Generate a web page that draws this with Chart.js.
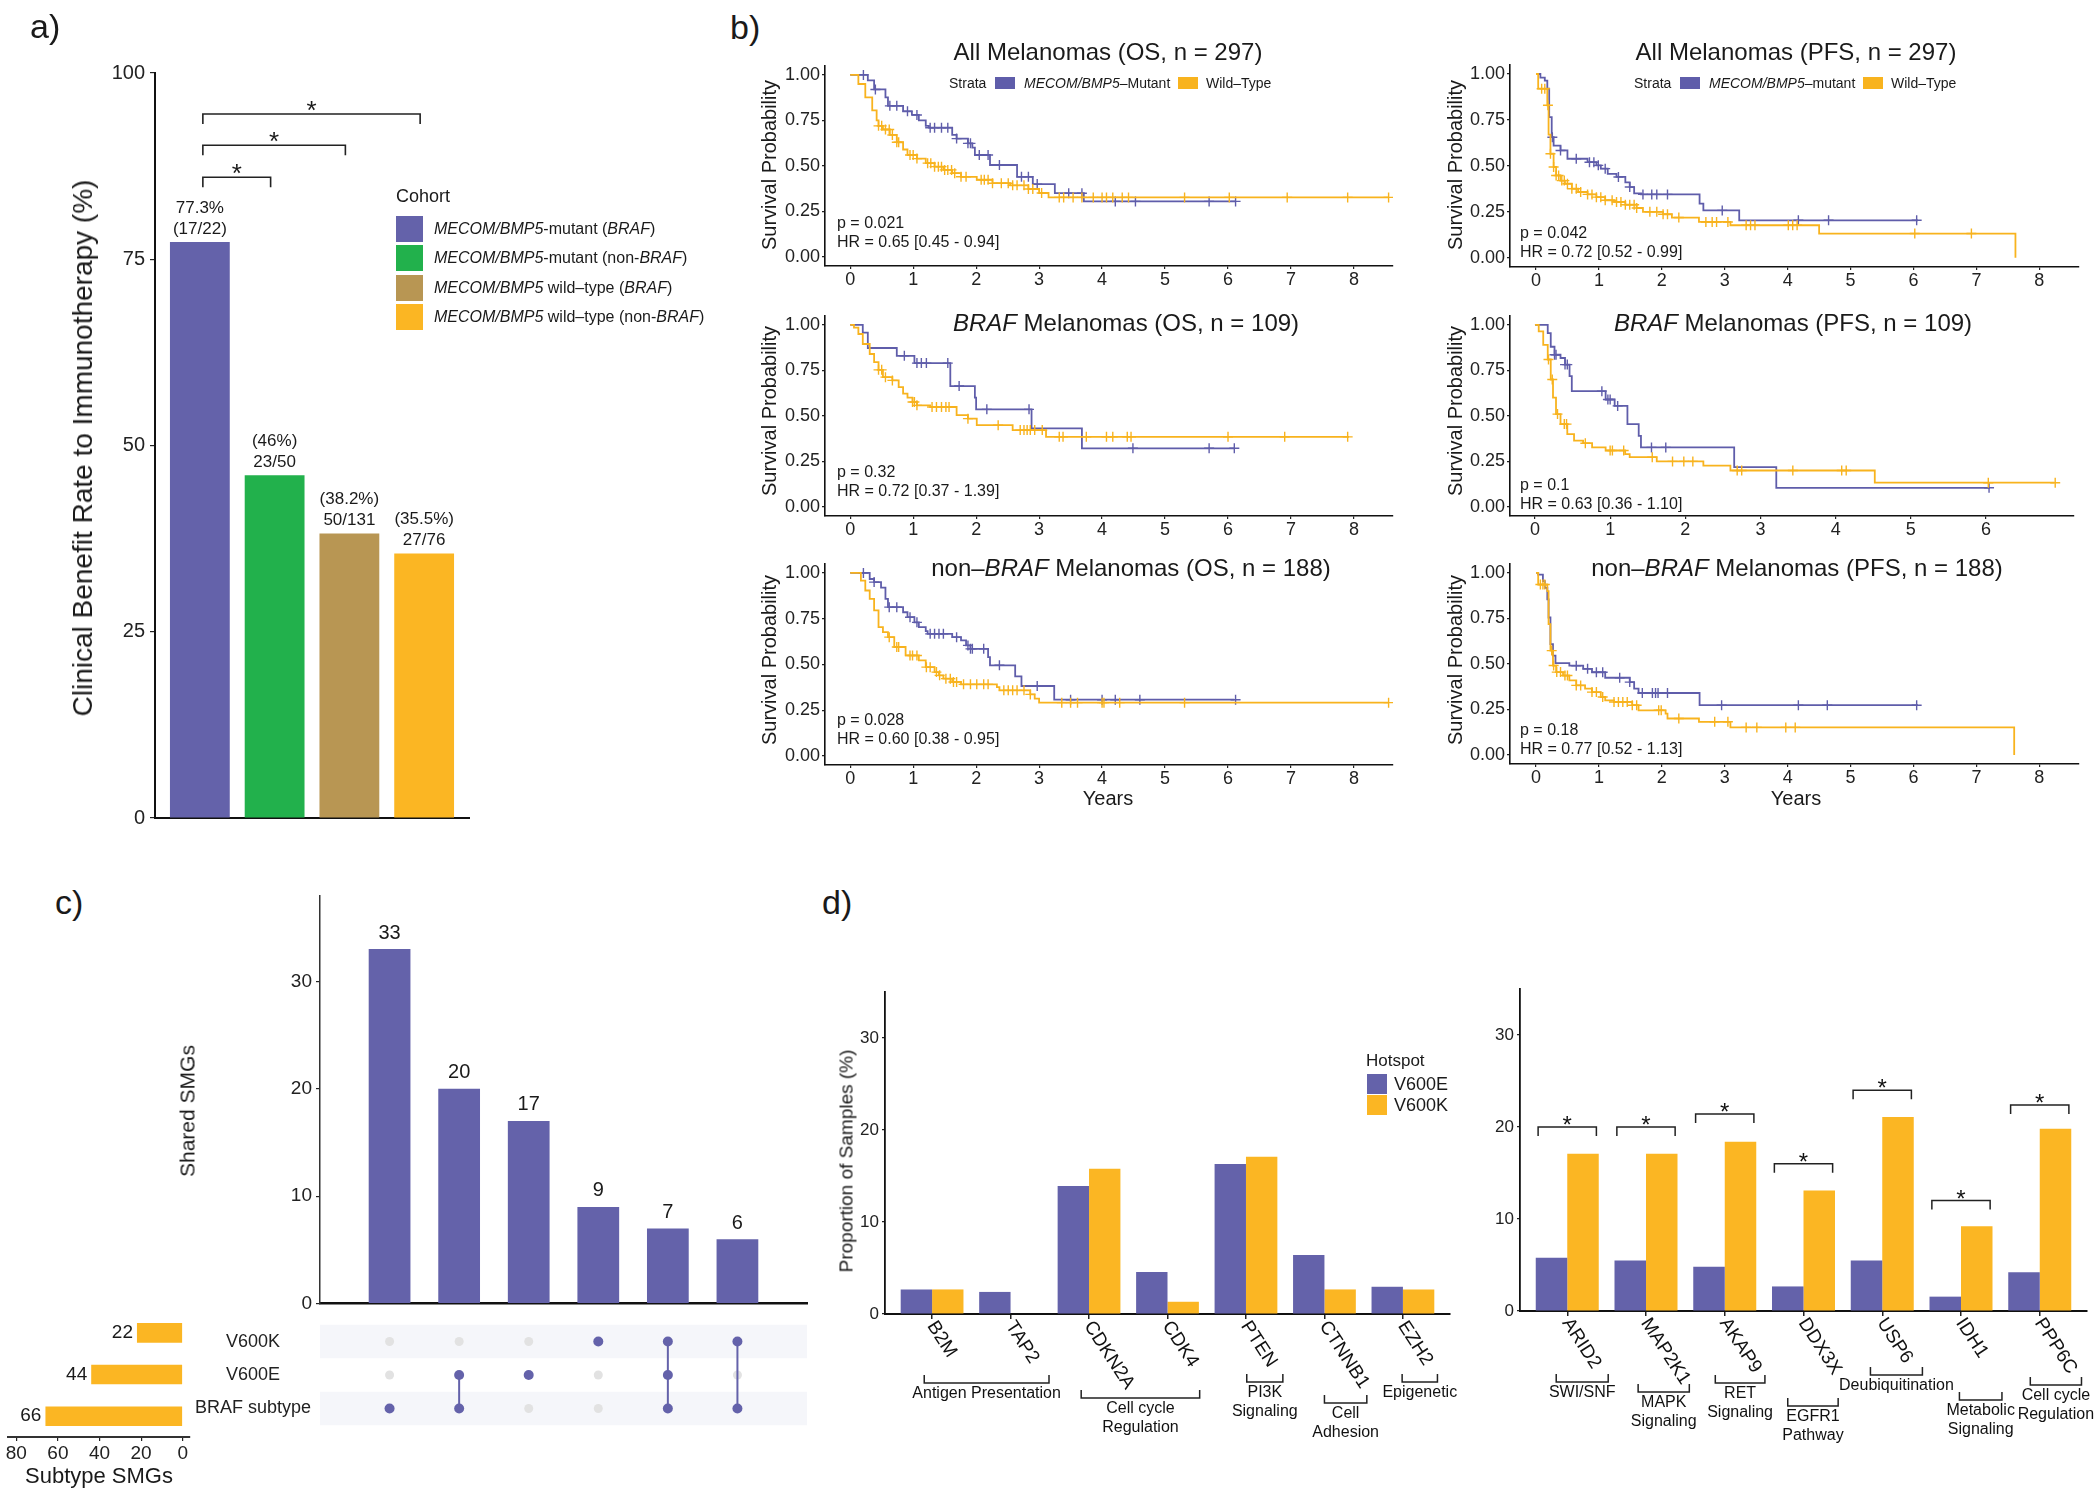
<!DOCTYPE html>
<html>
<head>
<meta charset="utf-8">
<title>MECOM/BMP5 melanoma figure</title>
<script src="https://cdn.jsdelivr.net/npm/chart.js@4.4.1/dist/chart.umd.min.js"></script>
<style>
  html, body { margin: 0; padding: 0; background: #fff; }
  body { position: relative; width: 2100px; height: 1493px; overflow: hidden;
         font-family: "Liberation Sans", Arial, sans-serif; color: #1a1a1a; }
  canvas { position: absolute; }
  .t { position: absolute; white-space: nowrap; line-height: 1; }
  .sw { position: absolute; }
</style>
</head>
<body>
<script>
// ---------- colours ----------
const PURPLE = '#6462AA', YELLOW = '#FBB623', GREEN = '#22B14C', TAN = '#B89653';
const PURPLE_KM = '#5F5DAA', YELLOW_KM = '#F8B31E';
const FONT = '"Liberation Sans", Arial, sans-serif';

// ---------- panel a: clinical benefit ----------
const cohortLabels = [
  '<i>MECOM/BMP5</i>-mutant (<i>BRAF</i>)',
  '<i>MECOM/BMP5</i>-mutant (non-<i>BRAF</i>)',
  '<i>MECOM/BMP5</i> wild–type (<i>BRAF</i>)',
  '<i>MECOM/BMP5</i> wild–type (non-<i>BRAF</i>)'
];
const benefitRate = [77.3, 46, 38.2, 35.5];
const benefitPct = ['77.3%', '(46%)', '(38.2%)', '(35.5%)'];
const benefitFrac = ['(17/22)', '23/50', '50/131', '27/76'];
const cohortColors = [PURPLE, GREEN, TAN, YELLOW];
const rateTicks = [0, 25, 50, 75, 100];
const benefitTests = [[1, 4, 94.5], [1, 3, 90.3], [1, 2, 86.0]]; // cohort, cohort, bracket level

// ---------- panel b: Kaplan-Meier curves [years, survival] ----------
const survTicks = [0, 0.25, 0.5, 0.75, 1];

const osAllMut = [[0,1],[0.28,0.97],[0.38,0.92],[0.56,0.876],[0.6,0.83],[0.84,0.80],[0.98,0.78],[1.09,0.75],[1.2,0.72],[1.25,0.71],[1.62,0.67],[1.69,0.65],[1.87,0.624],[1.94,0.60],[1.98,0.56],[2.22,0.505],[2.65,0.44],[2.9,0.40],[3.25,0.35],[3.71,0.305],[6.12,0.305]];
const osAllWt = [[0,1],[0.13,0.95],[0.24,0.876],[0.35,0.805],[0.42,0.75],[0.45,0.72],[0.52,0.70],[0.63,0.67],[0.74,0.63],[0.84,0.59],[0.91,0.56],[1.06,0.54],[1.2,0.515],[1.34,0.496],[1.48,0.478],[1.62,0.46],[1.76,0.44],[2.01,0.424],[2.26,0.405],[2.54,0.393],[2.83,0.373],[3.0,0.351],[3.15,0.327],[8.55,0.327]];
const osAllMutCens = [0.21,0.40,0.63,0.74,0.91,1.06,1.27,1.34,1.45,1.55,1.69,1.87,1.91,2.05,2.19,2.37,2.72,2.83,2.97,3.47,3.68,4.21,4.53,5.70,6.12];
const osAllWtCens = [0.45,0.50,0.56,0.62,0.67,0.74,0.77,0.95,1.0,1.06,1.23,1.28,1.34,1.40,1.45,1.50,1.55,1.61,1.66,1.76,1.84,2.08,2.13,2.19,2.26,2.40,2.51,2.58,2.65,2.76,2.83,2.90,3.04,3.32,3.39,3.54,3.68,3.86,4.0,4.07,4.17,4.32,4.42,5.31,6.02,6.94,7.9,8.55];

const pfsAllMut = [[0,1],[0.07,0.98],[0.14,0.964],[0.18,0.92],[0.21,0.765],[0.25,0.656],[0.28,0.61],[0.39,0.584],[0.5,0.539],[0.82,0.52],[0.96,0.503],[1.03,0.485],[1.14,0.457],[1.28,0.44],[1.42,0.41],[1.49,0.385],[1.56,0.35],[1.67,0.345],[2.6,0.295],[2.66,0.258],[3.23,0.204],[6.07,0.204]];
const pfsAllWt = [[0,1],[0.035,0.92],[0.18,0.83],[0.2,0.67],[0.23,0.566],[0.28,0.494],[0.32,0.448],[0.39,0.42],[0.46,0.403],[0.57,0.376],[0.67,0.358],[0.82,0.345],[0.96,0.33],[1.1,0.313],[1.24,0.304],[1.42,0.289],[1.6,0.271],[1.7,0.25],[2.02,0.237],[2.16,0.219],[2.59,0.195],[3.09,0.177],[4.5,0.132],[7.62,0.132],[7.62,0]];
const pfsAllMutCens = [0.26,0.39,0.64,0.85,0.92,0.99,1.1,1.31,1.49,1.70,1.84,1.92,2.09,2.96,4.17,4.65,6.05];
const pfsAllWtCens = [0.09,0.14,0.19,0.23,0.28,0.32,0.36,0.41,0.45,0.5,0.57,0.64,0.71,0.82,0.89,0.96,1.03,1.1,1.21,1.28,1.35,1.42,1.49,1.56,1.60,1.81,1.92,2.02,2.09,2.27,2.70,2.80,2.87,3.05,3.34,3.41,3.48,4.01,4.08,4.15,6.02,6.92];

const osBrafMut = [[0,1],[0.2,0.958],[0.28,0.873],[0.74,0.83],[1.02,0.79],[1.59,0.664],[1.98,0.60],[2.0,0.536],[2.88,0.431],[3.68,0.322],[6.1,0.322]];
const osBrafWt = [[0,1],[0.06,0.985],[0.13,0.95],[0.2,0.895],[0.31,0.84],[0.38,0.795],[0.45,0.753],[0.52,0.713],[0.67,0.695],[0.77,0.658],[0.84,0.622],[0.91,0.60],[0.99,0.576],[1.06,0.558],[1.27,0.549],[1.69,0.504],[1.87,0.485],[2.01,0.449],[2.58,0.422],[3.11,0.385],[7.92,0.385]];
const osBrafMutCens = [0.86,1.06,1.13,1.21,1.55,1.73,2.17,2.84,4.49,5.70,6.10];
const osBrafWtCens = [0.45,0.5,0.56,0.67,0.99,1.02,1.06,1.3,1.37,1.45,1.52,1.57,1.87,2.35,2.7,2.76,2.81,2.86,2.93,3.05,3.32,3.38,3.75,4.07,4.17,4.4,4.46,6.0,6.9,7.9];

const pfsBrafMut = [[0,1],[0.17,0.955],[0.21,0.88],[0.26,0.836],[0.34,0.818],[0.4,0.782],[0.46,0.718],[0.49,0.636],[0.94,0.59],[1.06,0.555],[1.23,0.455],[1.38,0.39],[1.41,0.327],[2.65,0.218],[3.21,0.105],[6.05,0.105]];
const pfsBrafWt = [[0,1],[0.05,0.964],[0.11,0.89],[0.17,0.81],[0.21,0.70],[0.24,0.60],[0.28,0.51],[0.34,0.455],[0.43,0.40],[0.52,0.364],[0.64,0.35],[0.76,0.327],[0.94,0.31],[1.2,0.29],[1.26,0.273],[1.62,0.25],[2.24,0.227],[2.6,0.2],[4.52,0.133],[6.91,0.133]];
const pfsBrafMutCens = [0.26,0.28,0.40,0.43,0.89,0.97,1.0,1.1,1.55,1.74,6.04];
const pfsBrafWtCens = [0.18,0.23,0.3,0.39,0.42,0.67,1.0,1.03,1.18,1.56,1.83,1.98,2.1,2.69,2.75,3.43,4.08,4.14,6.03,6.92];

const osNonMut = [[0,1],[0.31,0.967],[0.38,0.95],[0.49,0.92],[0.56,0.858],[0.6,0.813],[0.84,0.785],[0.91,0.758],[1.02,0.73],[1.09,0.704],[1.2,0.682],[1.23,0.667],[1.62,0.649],[1.76,0.631],[1.84,0.604],[1.91,0.585],[2.19,0.54],[2.22,0.495],[2.62,0.435],[2.72,0.382],[3.24,0.307],[6.1,0.307]];
const osNonWt = [[0,1],[0.17,0.958],[0.24,0.904],[0.31,0.858],[0.38,0.795],[0.45,0.704],[0.52,0.676],[0.6,0.649],[0.7,0.595],[0.88,0.549],[1.09,0.522],[1.2,0.485],[1.34,0.458],[1.41,0.44],[1.48,0.422],[1.62,0.404],[1.76,0.391],[2.33,0.376],[2.37,0.358],[2.86,0.336],[2.93,0.313],[3.0,0.291],[8.55,0.291]];
const osNonMutCens = [0.21,0.38,0.62,0.74,0.95,1.06,1.27,1.34,1.41,1.48,1.69,1.87,1.91,1.94,2.12,2.37,2.97,3.5,4.0,4.21,4.6,6.12];
const osNonWtCens = [0.62,0.74,0.77,0.95,0.99,1.06,1.21,1.27,1.37,1.42,1.52,1.59,1.64,1.69,1.8,1.91,2.01,2.12,2.19,2.44,2.51,2.58,2.65,2.76,2.86,3.36,3.5,3.61,4.0,4.03,4.28,5.31,8.55];

const pfsNonMut = [[0,1],[0.035,0.99],[0.11,0.955],[0.14,0.918],[0.18,0.855],[0.2,0.755],[0.23,0.609],[0.27,0.545],[0.31,0.504],[0.53,0.49],[0.75,0.473],[0.89,0.454],[1.1,0.424],[1.49,0.40],[1.56,0.364],[1.63,0.34],[2.6,0.273],[6.07,0.273]];
const pfsNonWt = [[0,1],[0.035,0.936],[0.18,0.9],[0.2,0.718],[0.23,0.573],[0.27,0.491],[0.32,0.455],[0.43,0.436],[0.53,0.41],[0.64,0.382],[0.78,0.364],[0.89,0.345],[1.03,0.318],[1.1,0.3],[1.24,0.291],[1.53,0.273],[1.63,0.245],[2.06,0.227],[2.09,0.2],[2.59,0.182],[3.09,0.151],[7.6,0.151],[7.6,0]];
const pfsNonMutCens = [0.64,0.82,0.96,1.06,1.33,1.49,1.69,1.85,1.9,1.94,2.09,2.95,4.17,4.63,6.05];
const pfsNonWtCens = [0.07,0.11,0.14,0.25,0.28,0.33,0.39,0.46,0.5,0.64,0.71,0.89,0.96,1.06,1.24,1.31,1.38,1.45,1.53,1.6,1.95,1.99,2.27,2.84,3.05,3.34,3.51,3.97,4.12];

// ---------- panel c: UpSet ----------
const setNames = ['V600K', 'V600E', 'BRAF subtype'];
const setSizes = [22, 44, 66];
const intersectionSizes = [33, 20, 17, 9, 7, 6];
const memberships = [[2], [1, 2], [1], [0], [0, 1, 2], [0, 2]];
const sharedTicks = [0, 10, 20, 30];
const subtypeTicks = [0, 20, 40, 60, 80];

// ---------- panel d: hotspot proportions ----------
const hotspots = ['V600E', 'V600K'];
const genesLeft = ['B2M', 'TAP2', 'CDKN2A', 'CDK4', 'PTEN', 'CTNNB1', 'EZH2'];
const v600eLeft = [2.67, 2.4, 13.9, 4.56, 16.3, 6.4, 2.96];
const v600kLeft = [2.67, 0, 15.8, 1.33, 17.1, 2.67, 2.67];
const genesRight = ['ARID2', 'MAP2K1', 'AKAP9', 'DDX3X', 'USP6', 'IDH1', 'PPP6C'];
const v600eRight = [5.8, 5.5, 4.8, 2.67, 5.5, 1.56, 4.2];
const v600kRight = [17.1, 17.1, 18.4, 13.1, 21.1, 9.2, 19.8];
const sigLevelRight = [20.0, 20.0, 21.4, 16.0, 24.0, 12.0, 22.4];
const proportionTicks = [0, 10, 20, 30];

// pathway brackets under the gene names (x in gene units, dy in px below the axis)
const pathwaysLeft = [
  {lines: ['Antigen Presentation'], from: 0.9, to: 2.49, dy: 69},
  {lines: ['Cell cycle', 'Regulation'], from: 2.9, to: 4.41, dy: 84},
  {lines: ['PI3K', 'Signaling'], from: 5.01, to: 5.47, dy: 68},
  {lines: ['Cell', 'Adhesion'], from: 6.0, to: 6.54, dy: 89},
  {lines: ['Epigenetic'], from: 6.99, to: 7.44, dy: 68}
];
const pathwaysRight = [
  {lines: ['SWI/SNF'], from: 0.86, to: 1.52, dy: 71},
  {lines: ['MAPK', 'Signaling'], from: 1.9, to: 2.55, dy: 81},
  {lines: ['RET', 'Signaling'], from: 2.88, to: 3.51, dy: 72},
  {lines: ['EGFR1', 'Pathway'], from: 3.8, to: 4.44, dy: 95},
  {lines: ['Deubiquitination'], from: 4.85, to: 5.51, dy: 64},
  {lines: ['Metabolic', 'Signaling'], from: 5.98, to: 6.52, dy: 89},
  {lines: ['Cell cycle', 'Regulation'], from: 6.88, to: 7.53, dy: 74}
];

// ---------- helpers ----------
Chart.defaults.font.family = FONT;
Chart.defaults.color = '#222';
Chart.defaults.animation = false;
Chart.defaults.responsive = false;
Chart.defaults.devicePixelRatio = 1;
Chart.defaults.plugins.legend.display = false;
Chart.defaults.plugins.tooltip.enabled = false;

// canvas sized so that the plot area lands on `area`; the axes take pad.left / pad.bottom
function mount(area, pad) {
  const c = document.createElement('canvas');
  const w = area.r - area.l + pad.left + pad.right;
  const h = area.b - area.t + pad.top + pad.bottom;
  c.width = w; c.height = h;
  Object.assign(c.style, {left: (area.l - pad.left) + 'px', top: (area.t - pad.top) + 'px', width: w + 'px', height: h + 'px'});
  document.body.appendChild(c);
  return c;
}
const layoutOf = pad => ({padding: {left: 0, bottom: 0, top: pad.top, right: pad.right}});
const fitX = pad => s => { s.height = pad.bottom; };
const fitY = pad => s => { s.width = pad.left; };
const tickList = vals => s => { s.ticks = vals.map(v => ({value: v})); };

function txt(x, y, html, size, align, rot) {
  const d = document.createElement('div');
  d.className = 't';
  d.innerHTML = html;
  d.style.left = x + 'px';
  d.style.top = y + 'px';
  d.style.fontSize = size + 'px';
  const tx = align === 'left' ? '0' : align === 'right' ? '-100%' : '-50%';
  d.style.transform = 'translate(' + tx + ',-50%)' + (rot ? ' rotate(' + rot + 'deg)' : '');
  document.body.appendChild(d);
}
function swatch(x, y, w, h, color) {
  const d = document.createElement('div');
  d.className = 'sw';
  Object.assign(d.style, {left: x + 'px', top: y + 'px', width: w + 'px', height: h + 'px', background: color});
  document.body.appendChild(d);
}
function stepAt(curve, t) {
  let s = curve[0][1];
  for (const [ti, si] of curve) { if (ti <= t) s = si; else break; }
  return s;
}
const axisGrid = (len) => ({drawOnChartArea: false, tickLength: len, color: '#222', lineWidth: 1.2});

// ---------- panel a ----------
const benefitLabels = {
  id: 'benefitLabels',
  afterDatasetsDraw(chart) {
    const {ctx, scales: {x, y}} = chart;
    const meta = chart.getDatasetMeta(0);
    ctx.save();
    ctx.fillStyle = '#1a1a1a';
    ctx.textAlign = 'center';
    ctx.textBaseline = 'middle';
    ctx.font = '17px ' + FONT;
    meta.data.forEach((bar, i) => {
      ctx.fillText(benefitFrac[i], bar.x, bar.y - 13);
      ctx.fillText(benefitPct[i], bar.x, bar.y - 34);
    });
    ctx.strokeStyle = '#222';
    ctx.lineWidth = 1.6;
    ctx.font = '26px ' + FONT;
    ctx.textBaseline = 'alphabetic';
    benefitTests.forEach(([a, b, h]) => {
      const x1 = x.getPixelForValue(a) + 3, x2 = x.getPixelForValue(b) - 4, yy = y.getPixelForValue(h);
      ctx.beginPath();
      ctx.moveTo(x1, yy + 10); ctx.lineTo(x1, yy); ctx.lineTo(x2, yy); ctx.lineTo(x2, yy + 10);
      ctx.stroke();
      ctx.fillText('*', (x1 + x2) / 2, yy + 5);
    });
    ctx.restore();
  }
};
const PAD_A = {left: 155, top: 73, right: 231, bottom: 42};
new Chart(mount({l: 155, t: 73, r: 469, b: 818}, PAD_A), {
  type: 'bar',
  data: {datasets: [{
    data: benefitRate.map((v, i) => ({x: i + 1, y: v})),
    backgroundColor: cohortColors, borderWidth: 0, categoryPercentage: 0.8, barPercentage: 1
  }]},
  options: {
    layout: layoutOf(PAD_A),
    scales: {
      x: {type: 'linear', min: 0.4, max: 4.6, offset: false, afterFit: fitX(PAD_A), afterBuildTicks: s => { s.ticks = []; },
          ticks: {display: false}, grid: {display: false}, border: {display: true, color: '#111', width: 2}},
      y: {min: 0, max: 100, afterFit: fitY(PAD_A), afterBuildTicks: tickList(rateTicks),
          ticks: {font: {size: 20}, color: '#222', padding: 5}, grid: axisGrid(5), border: {color: '#111', width: 2}}
    }
  },
  plugins: [benefitLabels]
});
txt(30, 26, 'a)', 34, 'left');
txt(83, 448, 'Clinical Benefit Rate to Immunotherapy (%)', 28, 'center', -90);
txt(396, 196, 'Cohort', 18, 'left');
cohortLabels.forEach((lab, i) => {
  const top = 216 + i * 29.3;
  swatch(396, top, 27, 26, cohortColors[i]);
  txt(434, top + 13, lab, 16, 'left');
});

// ---------- panel b ----------
function kmChart(area, mut, wt, mutCens, wtCens) {
  const pad = {left: 60, top: 12, right: 14, bottom: 32};
  const xTicks = [];
  for (let v = 0; v <= area.xt; v++) xTicks.push(v);
  const pts = c => c.map(([t, s]) => ({x: t, y: s}));
  const cens = (curve, times) => times.map(t => ({x: t, y: stepAt(curve, t)}));
  const lineDs = (c, col, order) => ({type: 'line', data: pts(c), borderColor: col, borderWidth: 1.8, stepped: 'before', pointRadius: 0, fill: false, order});
  const censDs = (c, times, col, order) => ({type: 'line', data: cens(c, times), showLine: false, pointStyle: 'cross', pointRadius: 5, pointBorderWidth: 1.4, borderColor: col, order});
  new Chart(mount(area, pad), {
    type: 'line',
    data: {datasets: [
      censDs(wt, wtCens, YELLOW_KM, 0), lineDs(wt, YELLOW_KM, 1),
      censDs(mut, mutCens, PURPLE_KM, 2), lineDs(mut, PURPLE_KM, 3)
    ]},
    options: {
      layout: layoutOf(pad),
      scales: {
        x: {type: 'linear', min: area.xmin, max: area.xmax, afterFit: fitX(pad), afterBuildTicks: tickList(xTicks),
            ticks: {font: {size: 18}, color: '#222', padding: 0, autoSkip: false, maxRotation: 0},
            grid: axisGrid(3), border: {color: '#111', width: 1.6}},
        y: {type: 'linear', min: -0.05, max: 1.05, afterFit: fitY(pad), afterBuildTicks: tickList(survTicks),
            ticks: {font: {size: 18}, color: '#222', padding: 2, callback: v => v.toFixed(2)},
            grid: axisGrid(3), border: {color: '#111', width: 1.6}}
      }
    }
  });
}
const KM_TL = {l: 825, t: 65, r: 1393, b: 266, xmin: -0.4, xmax: 8.62, xt: 8};
const KM_TR = {l: 1510, t: 64, r: 2079, b: 267, xmin: -0.413, xmax: 8.63, xt: 8};
const KM_ML = {l: 825, t: 315, r: 1393, b: 516, xmin: -0.4, xmax: 8.62, xt: 8};
const KM_MR = {l: 1510, t: 315, r: 2074, b: 516, xmin: -0.332, xmax: 7.17, xt: 6};
const KM_BL = {l: 825, t: 563, r: 1393, b: 765, xmin: -0.4, xmax: 8.62, xt: 8};
const KM_BR = {l: 1510, t: 563, r: 2079, b: 764, xmin: -0.413, xmax: 8.63, xt: 8};
kmChart(KM_TL, osAllMut, osAllWt, osAllMutCens, osAllWtCens);
kmChart(KM_TR, pfsAllMut, pfsAllWt, pfsAllMutCens, pfsAllWtCens);
kmChart(KM_ML, osBrafMut, osBrafWt, osBrafMutCens, osBrafWtCens);
kmChart(KM_MR, pfsBrafMut, pfsBrafWt, pfsBrafMutCens, pfsBrafWtCens);
kmChart(KM_BL, osNonMut, osNonWt, osNonMutCens, osNonWtCens);
kmChart(KM_BR, pfsNonMut, pfsNonWt, pfsNonMutCens, pfsNonWtCens);

txt(730, 27, 'b)', 34, 'left');
[
  [1108, 52, 'All Melanomas (OS, n = 297)'],
  [1796, 52, 'All Melanomas (PFS, n = 297)'],
  [1126, 323, '<i>BRAF</i> Melanomas (OS, n = 109)'],
  [1793, 323, '<i>BRAF</i> Melanomas (PFS, n = 109)'],
  [1131, 568, 'non–<i>BRAF</i> Melanomas (OS, n = 188)'],
  [1797, 568, 'non–<i>BRAF</i> Melanomas (PFS, n = 188)']
].forEach(([x, y, s]) => txt(x, y, s, 24, 'center'));
[
  [837, 223, 'p = 0.021', 'HR = 0.65 [0.45 - 0.94]'],
  [1520, 233, 'p = 0.042', 'HR = 0.72 [0.52 - 0.99]'],
  [837, 472, 'p = 0.32', 'HR = 0.72 [0.37 - 1.39]'],
  [1520, 485, 'p = 0.1', 'HR = 0.63 [0.36 - 1.10]'],
  [837, 720, 'p = 0.028', 'HR = 0.60 [0.38 - 0.95]'],
  [1520, 730, 'p = 0.18', 'HR = 0.77 [0.52 - 1.13]']
].forEach(([x, y, p, hr]) => { txt(x, y, p, 16, 'left'); txt(x, y + 19, hr, 16, 'left'); });
[[769, 165], [769, 411], [769, 660], [1455, 165], [1455, 411], [1455, 660]]
  .forEach(([x, y]) => txt(x, y, 'Survival Probability', 20, 'center', -90));
txt(1108, 798, 'Years', 20, 'center');
txt(1796, 798, 'Years', 20, 'center');
function kmLegend(x, y, mutLabel) {
  txt(x, y, 'Strata', 14, 'left');
  swatch(x + 46, y - 6, 20, 12, PURPLE_KM);
  txt(x + 75, y, mutLabel, 14, 'left');
  swatch(x + 229, y - 6, 20, 12, YELLOW_KM);
  txt(x + 257, y, 'Wild–Type', 14, 'left');
}
kmLegend(949, 83, '<i>MECOM/BMP5</i>–Mutant');
kmLegend(1634, 83, '<i>MECOM/BMP5</i>–mutant');

// ---------- panel c ----------
const valueLabels = {
  id: 'valueLabels',
  afterDatasetsDraw(chart, args, o) {
    const {ctx} = chart;
    const ds = chart.data.datasets[0];
    ctx.save();
    ctx.font = o.size + 'px ' + FONT;
    ctx.fillStyle = '#1a1a1a';
    ctx.textBaseline = 'middle';
    ctx.textAlign = o.horizontal ? 'right' : 'center';
    chart.getDatasetMeta(0).data.forEach((el, i) => {
      const v = o.horizontal ? ds.data[i].x : ds.data[i].y;
      if (o.horizontal) ctx.fillText(v, el.x - o.gap, el.y);
      else ctx.fillText(v, el.x, el.y - o.gap);
    });
    ctx.restore();
  }
};
const PAD_C = {left: 170, top: 15, right: 13, bottom: 10};
new Chart(mount({l: 320, t: 895, r: 807, b: 1309}, PAD_C), {
  type: 'bar',
  data: {datasets: [{
    data: intersectionSizes.map((v, i) => ({x: i + 1, y: v})),
    backgroundColor: PURPLE, borderWidth: 0, categoryPercentage: 0.6, barPercentage: 1
  }]},
  options: {
    layout: layoutOf(PAD_C),
    plugins: {valueLabels: {size: 20, gap: 16}},
    scales: {
      x: {type: 'linear', min: 0, max: 7, offset: false, afterFit: fitX(PAD_C), afterBuildTicks: s => { s.ticks = []; },
          ticks: {display: false}, grid: {display: false}, border: {display: true, color: '#111', width: 2.5}},
      y: {min: 0, max: 38, afterFit: fitY(PAD_C), afterBuildTicks: tickList(sharedTicks),
          ticks: {font: {size: 19}, color: '#222', padding: 4}, grid: axisGrid(4), border: {color: '#333', width: 1.5}}
    }
  },
  plugins: [valueLabels]
});

// intersection matrix
const offCells = [], onCells = [], links = [];
memberships.forEach((m, c) => {
  setNames.forEach((n, r) => { (m.includes(r) ? onCells : offCells).push({x: c + 1, y: n}); });
  if (m.length > 1) links.push([{x: c + 1, y: setNames[Math.min(...m)]}, {x: c + 1, y: setNames[Math.max(...m)]}]);
});
const rowStripes = {
  id: 'rowStripes',
  beforeDatasetsDraw(chart) {
    const {ctx, chartArea, scales: {y}} = chart;
    const h = y.getPixelForValue(1) - y.getPixelForValue(0);
    ctx.save();
    ctx.fillStyle = '#F5F6FA';
    [0, 2].forEach(r => {
      const cy = y.getPixelForValue(r);
      ctx.fillRect(chartArea.left, cy - h / 2, chartArea.right - chartArea.left, h);
    });
    ctx.restore();
  }
};
new Chart(mount({l: 320, t: 1312, r: 807, b: 1437}, {left: 130, top: 7, right: 13, bottom: 8}), {
  type: 'scatter',
  data: {datasets: [
    {data: onCells, backgroundColor: PURPLE, borderWidth: 0, pointRadius: 5, order: 0},
    ...links.map(l => ({type: 'line', data: l, showLine: true, borderColor: PURPLE, borderWidth: 2, pointRadius: 0, order: 1})),
    {data: offCells, backgroundColor: '#E2E2E2', borderWidth: 0, pointRadius: 4.5, order: 5}
  ]},
  options: {
    layout: {padding: {left: 0, top: 7, right: 13, bottom: 8}},
    scales: {
      x: {type: 'linear', min: 0, max: 7, display: false},
      y: {type: 'category', labels: setNames, offset: true, afterFit: s => { s.width = 130; },
          ticks: {font: {size: 18}, color: '#222', padding: 9, crossAlign: 'center'},
          grid: {display: false, drawTicks: false}, border: {display: false}}
    }
  },
  plugins: [rowStripes]
});

// set sizes
const PAD_S = {left: 8, top: 7, right: 8, bottom: 30};
new Chart(mount({l: 8, t: 1312, r: 190, b: 1437}, PAD_S), {
  type: 'bar',
  data: {labels: setNames, datasets: [{
    data: setSizes.map((v, i) => ({x: v, y: setNames[i]})),
    backgroundColor: YELLOW, borderWidth: 0, categoryPercentage: 0.47, barPercentage: 1
  }]},
  options: {
    indexAxis: 'y',
    layout: {padding: {left: 8, top: 7, right: 8, bottom: 0}},
    plugins: {valueLabels: {size: 19, gap: 4, horizontal: true}},
    scales: {
      y: {type: 'category', display: false},
      x: {type: 'linear', min: -3.5, max: 84, reverse: true, afterFit: fitX(PAD_S), afterBuildTicks: tickList(subtypeTicks),
          ticks: {font: {size: 19}, color: '#222', padding: 1, autoSkip: false, maxRotation: 0},
          grid: axisGrid(4), border: {color: '#333', width: 2}}
    }
  },
  plugins: [valueLabels]
});
txt(55, 902, 'c)', 34, 'left');
txt(187, 1111, 'Shared SMGs', 21, 'center', -90);
txt(99, 1476, 'Subtype SMGs', 22, 'center');

// ---------- panel d ----------
const geneAxis = {
  id: 'geneAxis',
  afterDraw(chart, args, o) {
    const {ctx, scales: {x, y}} = chart;
    const base = y.getPixelForValue(0);
    ctx.save();
    ctx.fillStyle = '#111';
    ctx.strokeStyle = '#222';
    ctx.lineWidth = 1.5;
    ctx.font = '19px ' + FONT;
    o.genes.forEach((g, i) => {
      ctx.save();
      ctx.translate(x.getPixelForValue(i + 1) - 1, base + 9);
      ctx.rotate(57 * Math.PI / 180);
      ctx.textAlign = 'left';
      ctx.textBaseline = 'middle';
      ctx.fillText(g, 0, 0);
      ctx.restore();
    });
    ctx.font = '16px ' + FONT;
    ctx.textAlign = 'center';
    ctx.textBaseline = 'middle';
    o.groups.forEach(g => {
      const x1 = x.getPixelForValue(g.from), x2 = x.getPixelForValue(g.to), yy = base + g.dy;
      ctx.beginPath();
      ctx.moveTo(x1, yy - 8); ctx.lineTo(x1, yy); ctx.lineTo(x2, yy); ctx.lineTo(x2, yy - 8);
      ctx.stroke();
      g.lines.forEach((ln, k) => ctx.fillText(ln, (x1 + x2) / 2, yy + 11 + k * 19));
    });
    if (o.sig) {
      ctx.font = '24px ' + FONT;
      ctx.textBaseline = 'alphabetic';
      o.sig.forEach((h, i) => {
        const x1 = x.getPixelForValue(i + 1 - 0.37), x2 = x.getPixelForValue(i + 1 + 0.37), yy = y.getPixelForValue(h);
        ctx.beginPath();
        ctx.moveTo(x1, yy + 9); ctx.lineTo(x1, yy); ctx.lineTo(x2, yy); ctx.lineTo(x2, yy + 9);
        ctx.stroke();
        ctx.fillText('*', (x1 + x2) / 2, yy + 6);
      });
    }
    ctx.restore();
  }
};
function hotspotChart(area, pad, genes, e, k, groups, sig) {
  new Chart(mount(area, pad), {
    type: 'bar',
    data: {datasets: [
      {label: hotspots[0], data: e.map((v, i) => ({x: i + 1, y: v})), backgroundColor: PURPLE, borderWidth: 0, categoryPercentage: 0.8, barPercentage: 1},
      {label: hotspots[1], data: k.map((v, i) => ({x: i + 1, y: v})), backgroundColor: YELLOW, borderWidth: 0, categoryPercentage: 0.8, barPercentage: 1}
    ]},
    options: {
      layout: layoutOf(pad),
      plugins: {geneAxis: {genes, groups, sig}},
      scales: {
        x: {type: 'linear', min: 0.4, max: 7.6, offset: false, afterFit: fitX(pad),
            afterBuildTicks: tickList(genes.map((g, i) => i + 1)),
            ticks: {display: false}, grid: {drawOnChartArea: false, offset: false, tickLength: 5, color: '#222', lineWidth: 1.5},
            border: {color: '#111', width: 2}},
        y: {min: 0, max: 35, afterFit: fitY(pad), afterBuildTicks: tickList(proportionTicks),
            ticks: {font: {size: 17}, color: '#222', padding: 3}, grid: axisGrid(3), border: {color: '#111', width: 1.8}}
      }
    },
    plugins: [geneAxis]
  });
}
hotspotChart({l: 885, t: 992, r: 1450, b: 1314}, {left: 85, top: 32, right: 20, bottom: 176},
  genesLeft, v600eLeft, v600kLeft, pathwaysLeft, null);
hotspotChart({l: 1520, t: 989, r: 2087, b: 1311}, {left: 70, top: 29, right: 13, bottom: 179},
  genesRight, v600eRight, v600kRight, pathwaysRight, sigLevelRight);
txt(822, 902, 'd)', 34, 'left');
txt(846, 1161, 'Proportion of Samples (%)', 19, 'center', -90);
txt(1366, 1060, 'Hotspot', 17, 'left');
swatch(1367, 1074, 20, 20, PURPLE);
swatch(1367, 1095, 20, 20, YELLOW);
txt(1394, 1084, hotspots[0], 18, 'left');
txt(1394, 1105, hotspots[1], 18, 'left');
</script>
</body>
</html>
